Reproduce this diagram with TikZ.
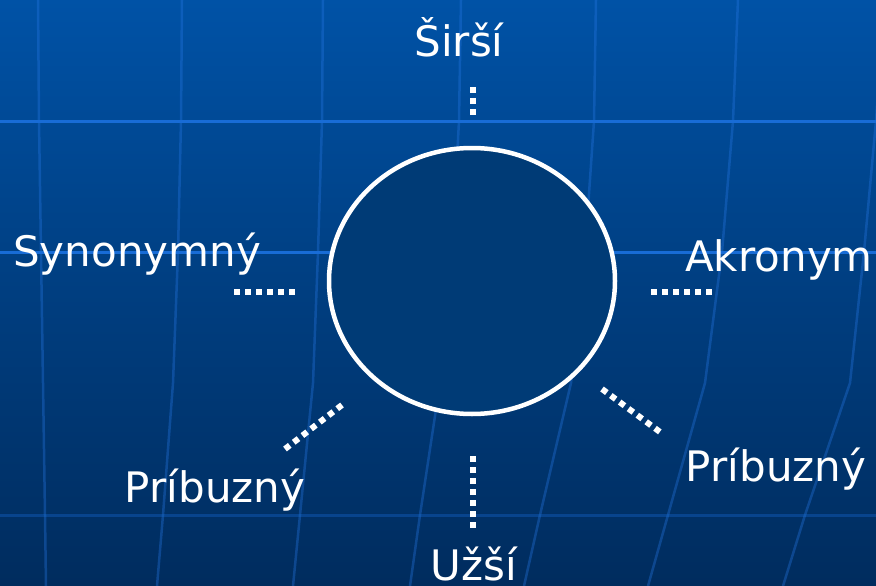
\documentclass[tikz,border=0pt]{standalone}
\usepackage{fontspec}
\setmainfont{DejaVu Sans}
\usetikzlibrary{positioning, shapes.geometric}

\definecolor{bgtop}{RGB}{0,82,166}
\definecolor{bgmid}{RGB}{0,62,128}
\definecolor{bgbot}{RGB}{0,44,94}
\definecolor{gridhi}{RGB}{24,108,214}
\definecolor{gridlo}{RGB}{40,120,230}
\definecolor{ringfill}{RGB}{0,59,118}

\begin{document}
\begin{tikzpicture}[x=1pt, y=-1pt,
        term/.style={text=white, font=\fontsize{42}{48}\selectfont, anchor=base, inner sep=0pt},
        ring/.style={ellipse, draw=white, line width=4.5pt, fill=ringfill,
            minimum width=286pt, minimum height=266pt},
        dotline/.style={white, line width=6pt, dash pattern=on 6pt off 5pt},
        vgrid/.style={gridlo, opacity=0.35, line width=2.5pt},
    ]
        \useasboundingbox (0,0) rectangle (876,586);
        % background
        \shade[top color=bgtop, bottom color=bgbot, middle color=bgmid] (0,0) rectangle (876,586);
        \foreach \a/\b/\c/\d/\e/\f in {38/39/41/43/45/46, 182/181/178/173/163/157,
                323/322/318/313/300/293, 461/459/452/440/420/410, 596/594/585/571/540/524,
                738/733/722/705/668/648, 884/876/864/850/805/783}
            \draw[vgrid] (\a,0) -- (\b,121) -- (\c,252) -- (\d,383) -- (\e,515) -- (\f,586);
        \draw[gridhi, line width=3pt] (0,121) -- (876,121);
        \draw[gridhi, line width=3pt] (0,252) -- (876,252);
        \draw[gridhi, opacity=0.35, line width=3pt] (0,515) -- (876,515);

        \node (center) [ring] at (472,281) {};

        \node (wider) [term] at (459,57) {Širší};
        \node (synonym) [term] at (137,266) {Synonymný};
        \node (acronym) [term] at (779,271) {Akronym};
        \node (relatedl) [term] at (215,502) {Príbuzný};
        \node (relatedr) [term] at (776,481) {Príbuzný};
        \node (narrower) [term] at (474,580) {Užší};

        % dotted links, lengths fit whole dots
        \coordinate (w1) at (473,87);   \coordinate (w2) at (473,115);
        \coordinate (s1) at (234,292);  \coordinate (s2) at (295,292);
        \coordinate (a1) at (651,292);  \coordinate (a2) at (712,292);
        \coordinate (l1) at (285,449);  \coordinate (l2) at (342,405);
        \coordinate (r1) at (602,389);  \coordinate (r2) at (660,432);
        \coordinate (n1) at (473,456);  \coordinate (n2) at (473,528);

        \draw[dotline] (w1) -- (w2);
        \draw[dotline] (s1) -- (s2);
        \draw[dotline] (a1) -- (a2);
        \draw[dotline] (l1) -- (l2);
        \draw[dotline] (r1) -- (r2);
        \draw[dotline] (n1) -- (n2);
    \end{tikzpicture}
\end{document}
